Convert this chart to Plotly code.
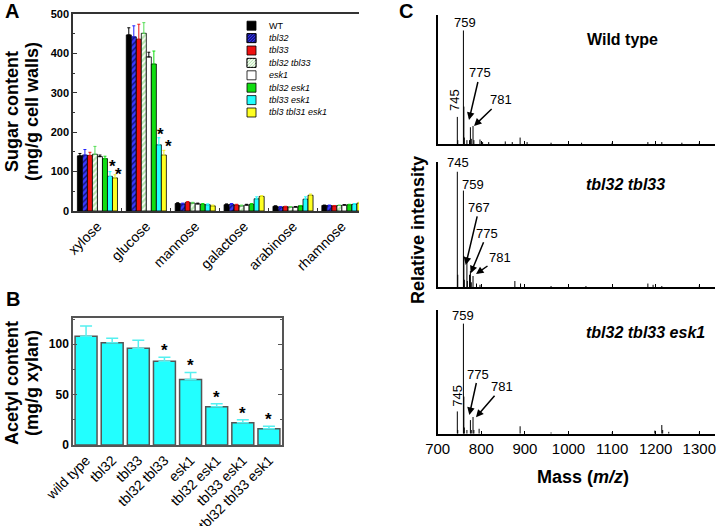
import plotly.graph_objects as go

W, H = 718, 526
FONT = "Arial, 'Liberation Sans', sans-serif"

# ---------------- Panel A data ----------------
sugars = ["xylose", "glucose", "mannose", "galactose", "arabinose", "rhamnose"]
genotypes = ["WT", "tbl32", "tbl33", "tbl32 tbl33", "esk1", "tbl32 esk1", "tbl33 esk1", "tbl3 tbl31 esk1"]
sugar_vals = {
    "WT":              [140, 447, 19, 16, 12, 14],
    "tbl32":           [142, 442, 18, 17, 10, 14],
    "tbl33":           [141, 436, 22, 15, 11, 13],
    "tbl32 tbl33":     [144, 451, 20, 13, 10, 14],
    "esk1":            [138, 391, 18, 15, 10, 15],
    "tbl32 esk1":      [133, 373, 17, 17, 13, 16],
    "tbl33 esk1":      [88, 168, 16, 31, 30, 17],
    "tbl3 tbl31 esk1": [84, 142, 13, 37, 40, 20],
}
sugar_errs = {
    "WT":              [6, 18, 2, 2, 1, 1],
    "tbl32":           [14, 28, 2, 2, 1, 1],
    "tbl33":           [8, 38, 2, 2, 1, 1],
    "tbl32 tbl33":     [20, 27, 2, 2, 1, 1],
    "esk1":            [4, 12, 2, 2, 1, 1],
    "tbl32 esk1":      [6, 33, 2, 2, 1, 1],
    "tbl33 esk1":      [12, 18, 2, 5, 6, 2],
    "tbl3 tbl31 esk1": [8, 12, 2, 2, 3, 2],
}
# significance marks: (sugar index, genotype index, gap above error bar in px, x shift px)
sugar_sig = [(0, 6, 7, 3), (0, 7, 2, 4), (1, 6, 5, 2), (1, 7, 5, 5)]

# ---------------- Panel B data ----------------
acetyl_lines = ["wild type", "tbl32", "tbl33", "tbl32 tbl33", "esk1", "tbl32 esk1", "tbl33 esk1", "tbl32 tbl33 esk1"]
acetyl_vals = [108, 101.5, 96, 83, 65, 38, 22, 16]
acetyl_errs = [10, 4.5, 8, 4, 7, 3, 3, 2.5]
acetyl_sig = [False, False, False, True, True, True, True, True]

# ---------------- Panel C data (m/z, relative intensity) ----------------
wt_mz = [745, 746, 759, 760, 761, 767, 773, 775, 777, 781, 783, 797, 803, 817, 855, 871, 889, 905, 960, 1030, 1100, 1182, 1214, 1260, 1300]
wt_int = [0.21, 0.03, 0.88, 0.29, 0.05, 0.03, 0.03, 0.13, 0.04, 0.14, 0.03, 0.035, 0.015, 0.015, 0.02, 0.015, 0.05, 0.015, 0.01, 0.01, 0.01, 0.015, 0.015, 0.01, 0.01]
mid_mz = [745, 746, 759, 760, 761, 767, 768, 773, 775, 777, 781, 789, 797, 877, 890, 960, 1040, 1182, 1194, 1214, 1300]
mid_int = [0.92, 0.10, 0.77, 0.25, 0.06, 0.24, 0.05, 0.10, 0.13, 0.04, 0.09, 0.03, 0.02, 0.05, 0.03, 0.01, 0.01, 0.03, 0.02, 0.01, 0.015]
bot_mz = [745, 746, 759, 760, 761, 767, 775, 777, 781, 783, 795, 889, 960, 1100, 1198, 1214, 1216, 1230, 1300]
bot_int = [0.18, 0.03, 0.89, 0.30, 0.05, 0.03, 0.11, 0.03, 0.135, 0.03, 0.04, 0.06, 0.01, 0.01, 0.025, 0.07, 0.03, 0.015, 0.01]

# ---------------- styles ----------------
geno_style = {
    "WT":              dict(color="#000000", err="#000000"),
    "tbl32":           dict(color="#3a3aff", err="#2020ff", pattern=dict(shape="/", bgcolor="#3a3aff", fgcolor="#10106a", size=4, solidity=0.35)),
    "tbl33":           dict(color="#ee1111", err="#ee1111"),
    "tbl32 tbl33":     dict(color="#b5e6ad", err="#55dd55", pattern=dict(shape="/", bgcolor="#b5e6ad", fgcolor="#ffffff", size=4, solidity=0.4)),
    "esk1":            dict(color="#ffffff", err="#000000"),
    "tbl32 esk1":      dict(color="#11dd11", err="#11dd11"),
    "tbl33 esk1":      dict(color="#22ffff", err="#22ffff"),
    "tbl3 tbl31 esk1": dict(color="#ffff22", err="#eeee22"),
}


def px(x):
    return x / W


def py(y):
    return 1 - y / H


fig = go.Figure()

# Panel A bars
for g in genotypes:
    st = geno_style[g]
    marker = dict(color=st["color"], line=dict(color="black", width=0.8))
    if "pattern" in st:
        marker["pattern"] = st["pattern"]
    fig.add_trace(go.Bar(
        x=sugars, y=sugar_vals[g], name=g, marker=marker,
        error_y=dict(type="data", array=sugar_errs[g], arrayminus=[0] * len(sugars), symmetric=False,
                     color=st["err"], thickness=1, width=1.5),
        xaxis="x", yaxis="y", showlegend=False))

# Panel B bars
fig.add_trace(go.Bar(
    x=acetyl_lines, y=acetyl_vals, width=0.84,
    marker=dict(color="#22ffff", line=dict(color="#555555", width=1.5)),
    error_y=dict(type="data", array=acetyl_errs, arrayminus=[0] * len(acetyl_vals), symmetric=False,
                 color="#55f0f0", thickness=1.5, width=6),
    xaxis="x2", yaxis="y2", showlegend=False))


# Panel C spectra
def stick(mz, inten):
    xs, ys = [], []
    for m, v in zip(mz, inten):
        xs += [m, m, None]
        ys += [0, v, None]
    return xs, ys


for (mz, inten), ax in [((wt_mz, wt_int), "3"), ((mid_mz, mid_int), "4"), ((bot_mz, bot_int), "5")]:
    xs, ys = stick(mz, inten)
    fig.add_trace(go.Scatter(x=xs, y=ys, mode="lines", line=dict(color="black", width=1),
                             xaxis="x" + ax, yaxis="y" + ax, showlegend=False, hoverinfo="skip"))

layout = dict(
    template="none",
    width=W, height=H, margin=dict(l=0, r=0, t=0, b=0, pad=0, autoexpand=False),
    paper_bgcolor="white", plot_bgcolor="white",
    font=dict(family=FONT, color="black"),
    barmode="group", bargap=0.18, bargroupgap=0,
    xaxis=dict(domain=[px(73), px(359)], type="category", range=[-0.5, 5.35], automargin=False,
               showline=True, linecolor="#333333", linewidth=1.5, mirror=True,
               ticks="inside", tickson="boundaries", ticklen=3, tickcolor="#333333",
               tickangle=-45, tickfont=dict(size=14), showgrid=False, anchor="y"),
    yaxis=dict(domain=[py(211), py(14)], range=[0, 500], dtick=100, automargin=False,
               showline=True, linecolor="#333333", linewidth=1.5,
               ticks="inside", ticklen=4, tickcolor="#333333",
               minor=dict(dtick=50, ticks="inside", ticklen=2, tickcolor="#333333", showgrid=False),
               tickfont=dict(size=11, weight="bold"), showgrid=False, zeroline=False, anchor="x"),
    xaxis2=dict(domain=[px(73), px(282)], type="category", range=[-0.5, 7.5], automargin=False,
                showline=True, linecolor="#555555", linewidth=1.5, mirror=True,
                ticks="", tickangle=-45, tickfont=dict(size=14), showgrid=False, anchor="y2"),
    yaxis2=dict(domain=[py(445), py(318)], range=[0, 126], dtick=50, automargin=False,
                showline=True, linecolor="#555555", linewidth=1.5, mirror="ticks",
                ticks="inside", ticklen=4, tickcolor="#555555",
                minor=dict(dtick=25, ticks="inside", ticklen=2, tickcolor="#555555", showgrid=False),
                tickfont=dict(size=12, weight="bold"), showgrid=False, zeroline=False, anchor="x2"),
)

c_doms = {"3": (144, 15), "4": (287.3, 161.7), "5": (433.7, 310)}
for k, (yb, yt) in c_doms.items():
    layout["xaxis" + k] = dict(domain=[px(437.7), px(715)], range=[700, 1336], tick0=700, dtick=100,
                               automargin=False,
                               showline=True, linecolor="black", linewidth=2,
                               ticks="inside", ticklen=3, tickcolor="black",
                               showticklabels=(k == "5"), tickfont=dict(size=15),
                               showgrid=False, zeroline=False, anchor="y" + k)
    layout["yaxis" + k] = dict(domain=[py(yb), py(yt)], range=[0, 1], automargin=False,
                               showline=True, linecolor="black", linewidth=2,
                               ticks="", showticklabels=False, showgrid=False, zeroline=False,
                               anchor="x" + k)

fig.update_layout(**layout)

annotations = []
shapes = []


def txt(text, x, y, size, bold=False, italic=False, angle=0, xanchor="center", yanchor="middle"):
    annotations.append(dict(text=text, x=px(x), y=py(y), xref="paper", yref="paper",
                            showarrow=False, textangle=angle, xanchor=xanchor, yanchor=yanchor,
                            font=dict(size=size, family=FONT, color="black",
                                      weight="bold" if bold else "normal",
                                      style="italic" if italic else "normal")))


def arrow(text, tx, ty, hx, hy, size=13):
    annotations.append(dict(text=text, x=px(hx), y=py(hy), xref="paper", yref="paper",
                            showarrow=True, ax=tx - hx, ay=ty - hy, arrowhead=2, arrowsize=1,
                            arrowwidth=1.5, arrowcolor="black", standoff=0,
                            font=dict(size=size, family=FONT, color="black")))


# Panel labels
txt("A", 12, 11, 20, bold=True)
txt("B", 13, 299, 20, bold=True)
txt("C", 406, 11, 20, bold=True)

# Axis titles
txt("Sugar content", 12, 112, 18, bold=True, angle=-90)
txt("(mg/g cell walls)", 32, 112, 18, bold=True, angle=-90)
txt("Acetyl content", 12, 383, 18, bold=True, angle=-90)
txt("(mg/g xylan)", 32, 383, 18, bold=True, angle=-90)
txt("Relative intensity", 418, 230, 18, bold=True, angle=-90)
txt("Mass (<i>m/z</i>)", 583, 477, 18, bold=True)

# Panel A legend (manual)
for i, g in enumerate(genotypes):
    yc = 25.7 + 12.4 * i
    x0, x1, y0, y1 = 247, 256, yc - 4.5, yc + 4.5
    st = geno_style[g]
    shapes.append(dict(type="rect", xref="paper", yref="paper", x0=px(x0), x1=px(x1), y0=py(y1), y1=py(y0),
                       fillcolor=st["color"], line=dict(color="black", width=0.8)))
    if "pattern" in st:
        for d in (3, 6, 9, 12, 15):
            ax0 = max(0, d - 9)
            ax1 = min(9, d)
            shapes.append(dict(type="line", xref="paper", yref="paper",
                               x0=px(x0 + ax0), y0=py(y0 + d - ax0), x1=px(x0 + ax1), y1=py(y0 + d - ax1),
                               line=dict(color=st["pattern"]["fgcolor"], width=1.2)))
        shapes.append(dict(type="rect", xref="paper", yref="paper", x0=px(x0), x1=px(x1), y0=py(y1), y1=py(y0),
                           line=dict(color="black", width=0.8)))
    txt(g if g == "WT" else "<i>" + g + "</i>", 267, yc, 9, xanchor="left")

# Panel A asterisks
n = len(genotypes)
gw = 1 - 0.18
for si, gi, gap, xs in sugar_sig:
    g = genotypes[gi]
    off = -gw / 2 + gw / n * (gi + 0.5)
    annotations.append(dict(text="*", x=si + off, y=sugar_vals[g][si] + sugar_errs[g][si],
                            xref="x", yref="y", showarrow=False, yanchor="bottom", xshift=xs, yshift=gap - 13,
                            font=dict(size=17, family=FONT, color="black", weight="bold")))

# Panel B asterisks
for i, sig in enumerate(acetyl_sig):
    if sig:
        annotations.append(dict(text="*", x=i, y=acetyl_vals[i] + acetyl_errs[i],
                                xref="x2", yref="y2", showarrow=False, yanchor="bottom", yshift=-5,
                                font=dict(size=17, family=FONT, color="black", weight="bold")))

# Panel C titles
txt("Wild type", 622, 40, 16, bold=True)
txt("tbl32 tbl33", 625, 185, 16, bold=True, italic=True)
txt("tbl32 tbl33 esk1", 645, 332, 16, bold=True, italic=True)

# Panel C peak labels
txt("759", 465, 23, 13)
txt("745", 455, 100, 13, angle=-90)
arrow("775", 480, 73, 469, 120)
arrow("781", 501, 100, 474, 126)

txt("745", 458.3, 163, 13)
txt("759", 472.7, 185, 13)
arrow("767", 479.3, 207.3, 465.7, 265)
arrow("775", 487.3, 233.3, 470.7, 273.3)
arrow("781", 500, 257.3, 476, 274)

txt("759", 463.3, 315, 13)
txt("745", 456.7, 396, 13, angle=-90)
arrow("775", 478.3, 374, 469.3, 415)
arrow("781", 502.3, 386.7, 476, 417.3)

fig.update_layout(annotations=annotations, shapes=shapes)
fig.write_html("out.html", config={"displayModeBar": False},
               post_script="document.body.style.margin='0';document.body.style.padding='0';")
